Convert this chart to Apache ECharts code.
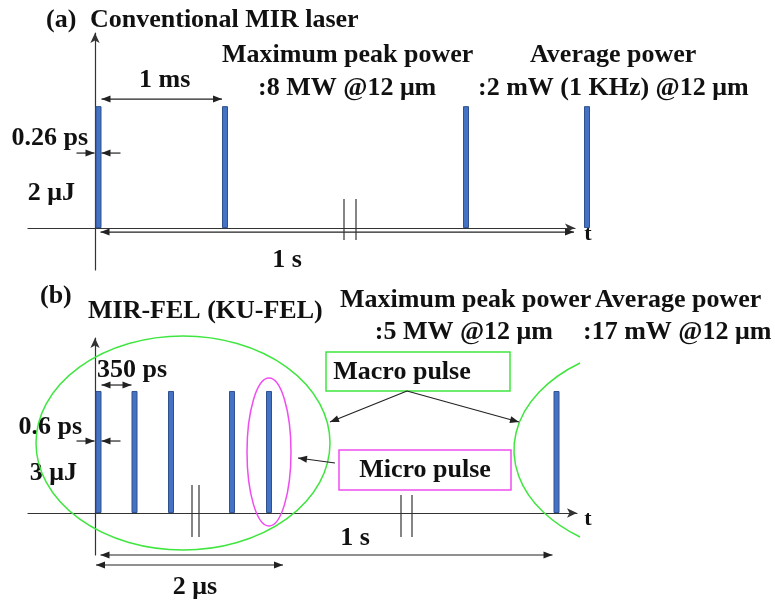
<!DOCTYPE html>
<html><head><meta charset="utf-8">
<script src="https://cdn.jsdelivr.net/npm/echarts@6/dist/echarts.min.js"></script>
<style>html,body{margin:0;padding:0;background:#fff}#c{width:775px;height:603px}</style>
</head><body><div id="c"></div>
<script>
// ---- data (schematic pulse positions on the time axis, pulse heights) ----
const pulseXA = [0.35, 13.0, 37.1, 49.2];
const pulseHA = [1, 1, 1, 1];
const pulseXB = [0.35, 3.95, 7.6, 13.7, 17.4, 46.15];
const pulseHB = [1, 1, 1, 1, 1, 1];
const labelsA = ['(a)', 'Conventional MIR laser', 'Maximum peak power', ':8 MW @12 \u03bcm', 'Average power', ':2 mW (1 KHz) @12 \u03bcm', '1 ms', '0.26 ps', '2 \u03bcJ', '1 s', 't'];
const labelsB = ['(b)', 'MIR-FEL (KU-FEL)', 'Maximum peak power', ':5 MW @12 \u03bcm', 'Average power', ':17 mW @12 \u03bcm', '350 ps', '0.6 ps', '3 \u03bcJ', '1 s', '2 \u03bcs', 'Macro pulse', 'Micro pulse', 't'];

const FONT = '"Liberation Serif", "Times New Roman", serif';
const FS = 26;
const INK = '#111';
const ARROW = '#222';
const GREEN = '#3fe63f';
const MAGENTA = '#f04cf0';
const HW = 3;

function mk(ch) {
  return {
    T(s, x, y, align, size) {
      ch.push({type: 'text', style: {text: s, x: x, y: y, align: align || 'left', verticalAlign: 'middle',
        fontFamily: FONT, fontWeight: 'bold', fontSize: size || FS, fill: INK}});
    },
    L(x1, y1, x2, y2, color, w) {
      ch.push({type: 'line', shape: {x1, y1, x2, y2}, style: {stroke: color || '#333', lineWidth: w || 1.2}});
    },
    head(tx, ty, fx, fy, color) {
      const a = Math.atan2(ty - fy, tx - fx), Lh = 9, W = 3.5;
      const bx = tx - Lh * Math.cos(a), by = ty - Lh * Math.sin(a);
      ch.push({type: 'polygon', shape: {points: [[tx, ty], [bx + W * Math.sin(a), by - W * Math.cos(a)], [bx - W * Math.sin(a), by + W * Math.cos(a)]]},
        style: {fill: color || ARROW}});
    },
    A(x1, y1, x2, y2, both) {
      this.L(x1, y1, x2, y2, ARROW, 1.2);
      this.head(x2, y2, x1, y1);
      if (both) this.head(x1, y1, x2, y2);
    },
    ell(cx, cy, rx, ry, color) {
      const d = 'M ' + (cx - rx) + ' ' + cy + ' A ' + rx + ' ' + ry + ' 0 1 0 ' + (cx + rx) + ' ' + cy +
        ' A ' + rx + ' ' + ry + ' 0 1 0 ' + (cx - rx) + ' ' + cy + ' Z';
      ch.push({type: 'path', shape: {pathData: d}, style: {fill: 'none', stroke: color, lineWidth: 1.5}});
    },
    box(x, y, w, h, color) {
      ch.push({type: 'rect', shape: {x, y, width: w, height: h}, style: {fill: 'none', stroke: color, lineWidth: 1.5}});
    }
  };
}

function renderA(params, api) {
  const ch = []; const g = mk(ch);
  const o = api.coord([0, 0]); const ox = o[0], oy = o[1];
  const P = pulseXA.map(x => api.coord([x, 0])[0]);
  const xEnd = api.coord([47.9, 0])[0];
  g.T(labelsA[0], ox - 49, oy - 208);
  g.T(labelsA[1], ox - 5, oy - 208);
  g.T(labelsA[2], ox + 127, oy - 173);
  g.T(labelsA[3], ox + 163, oy - 140);
  g.T(labelsA[4], ox + 435, oy - 173);
  g.T(labelsA[5], ox + 383, oy - 140);
  g.A(P[0] + HW, oy - 129, P[1] - HW, oy - 129, true);
  g.T(labelsA[6], (P[0] + P[1]) / 2 + 3, oy - 148, 'center');
  g.A(P[0] - HW - 19, oy - 75, P[0] - HW - 1, oy - 75);
  g.A(P[0] + HW + 19, oy - 75, P[0] + HW, oy - 75);
  g.T(labelsA[7], ox - 7, oy - 90, 'right');
  g.T(labelsA[8], ox - 20, oy - 35, 'right');
  g.A(P[0] + 2, oy + 4, xEnd, oy + 4, true);
  g.T(labelsA[9], ox + 192, oy + 32, 'center');
  g.L(ox + 249, oy - 29, ox + 249, oy + 12, '#333', 1.2);
  g.L(ox + 261, oy - 29, ox + 261, oy + 12, '#333', 1.2);
  g.T(labelsA[10], ox + 493, oy + 6, 'center', 22);
  return {type: 'group', children: ch};
}

function renderB(params, api) {
  const ch = []; const g = mk(ch);
  const o = api.coord([0, 0]); const ox = o[0], oy = o[1];
  const P = pulseXB.map(x => api.coord([x, 0])[0]);
  g.T(labelsB[0], ox - 55, oy - 217);
  g.T(labelsB[1], ox - 7, oy - 202);
  g.T(labelsB[2], ox + 245, oy - 213);
  g.T(labelsB[3], ox + 458, oy - 181, 'right');
  g.T(labelsB[4], ox + 500, oy - 213);
  g.T(labelsB[5], ox + 488, oy - 181);
  g.A(P[0] + HW, oy - 128, P[1] - HW, oy - 128, true);
  g.T(labelsB[6], ox + 2, oy - 143);
  g.A(P[0] - HW - 19, oy - 72, P[0] - HW - 1, oy - 72);
  g.A(P[0] + HW + 19, oy - 72, P[0] + HW, oy - 72);
  g.T(labelsB[7], ox - 13, oy - 86, 'right');
  g.T(labelsB[8], ox - 18, oy - 40, 'right');
  g.L(ox + 97, oy - 28, ox + 97, oy + 24, '#333', 1.2);
  g.L(ox + 104, oy - 28, ox + 104, oy + 24, '#333', 1.2);
  g.L(ox + 306, oy - 18, ox + 306, oy + 24, '#333', 1.2);
  g.L(ox + 317, oy - 18, ox + 317, oy + 24, '#333', 1.2);
  g.A(P[0] + 2, oy + 42, P[5] - HW - 1, oy + 42, true);
  g.T(labelsB[9], ox + 260, oy + 25, 'center');
  g.A(ox + 1, oy + 52, ox + 188, oy + 52, true);
  g.T(labelsB[10], ox + 100, oy + 74, 'center');
  g.ell(ox + 88, oy - 70, 147, 107, GREEN);
  g.ell(P[4], oy - 61, 22, 74, MAGENTA);
  ch.push({type: 'path', shape: {pathData: 'M ' + (ox + 485) + ' ' + (oy - 150) + ' A 158 107 0 0 0 ' + (ox + 485) + ' ' + (oy + 24)},
    style: {fill: 'none', stroke: GREEN, lineWidth: 1.5}});
  g.box(ox + 231, oy - 161, 184, 39, GREEN);
  g.T(labelsB[11], ox + 307, oy - 141, 'center');
  g.A(ox + 312, oy - 122, ox + 235, oy - 91);
  g.A(ox + 312, oy - 122, ox + 424, oy - 91);
  g.box(ox + 244, oy - 63, 172, 40, MAGENTA);
  g.T(labelsB[12], ox + 330, oy - 43, 'center');
  g.A(ox + 240, oy - 50, ox + 203, oy - 55);
  g.T(labelsB[13], ox + 493, oy + 6, 'center', 22);
  return {type: 'group', children: ch};
}

function axisX(grid, max) {
  return {gridIndex: grid, type: 'value', min: -6.7, max: max,
    axisLine: {show: true, onZero: true, symbol: ['none', 'arrow'], symbolSize: [7, 10], lineStyle: {color: '#333', width: 1.2}},
    axisTick: {show: false}, axisLabel: {show: false}, splitLine: {show: false}};
}
function axisY(grid, min, max) {
  return {gridIndex: grid, type: 'value', min: min, max: max,
    axisLine: {show: true, onZero: true, symbol: ['none', 'arrow'], symbolSize: [7, 10], lineStyle: {color: '#333', width: 1.2}},
    axisTick: {show: false}, axisLabel: {show: false}, splitLine: {show: false}};
}
const barStyle = {color: '#4472C4', borderColor: '#2F528F', borderWidth: 1};

const chart = echarts.init(document.getElementById('c'), null, {renderer: 'canvas'});
chart.setOption({
  animation: false,
  backgroundColor: '#fff',
  grid: [
    {left: 28, top: 33, width: 547, height: 237},
    {left: 28, top: 338, width: 549, height: 217}
  ],
  xAxis: [axisX(0, 48.0), axisX(1, 48.2)],
  yAxis: [axisY(0, -0.344, 1.6), axisY(1, -0.344, 1.434)],
  series: [
    {type: 'bar', xAxisIndex: 0, yAxisIndex: 0, barWidth: 6, clip: false, silent: true,
      data: pulseXA.map((x, i) => [x, pulseHA[i]]), itemStyle: barStyle},
    {type: 'bar', xAxisIndex: 1, yAxisIndex: 1, barWidth: 6, clip: false, silent: true,
      data: pulseXB.map((x, i) => [x, pulseHB[i]]), itemStyle: barStyle},
    {type: 'custom', xAxisIndex: 0, yAxisIndex: 0, data: [[0, 0]], renderItem: renderA, silent: true, clip: false, z: 5},
    {type: 'custom', xAxisIndex: 1, yAxisIndex: 1, data: [[0, 0]], renderItem: renderB, silent: true, clip: false, z: 5}
  ]
});
</script></body></html>
